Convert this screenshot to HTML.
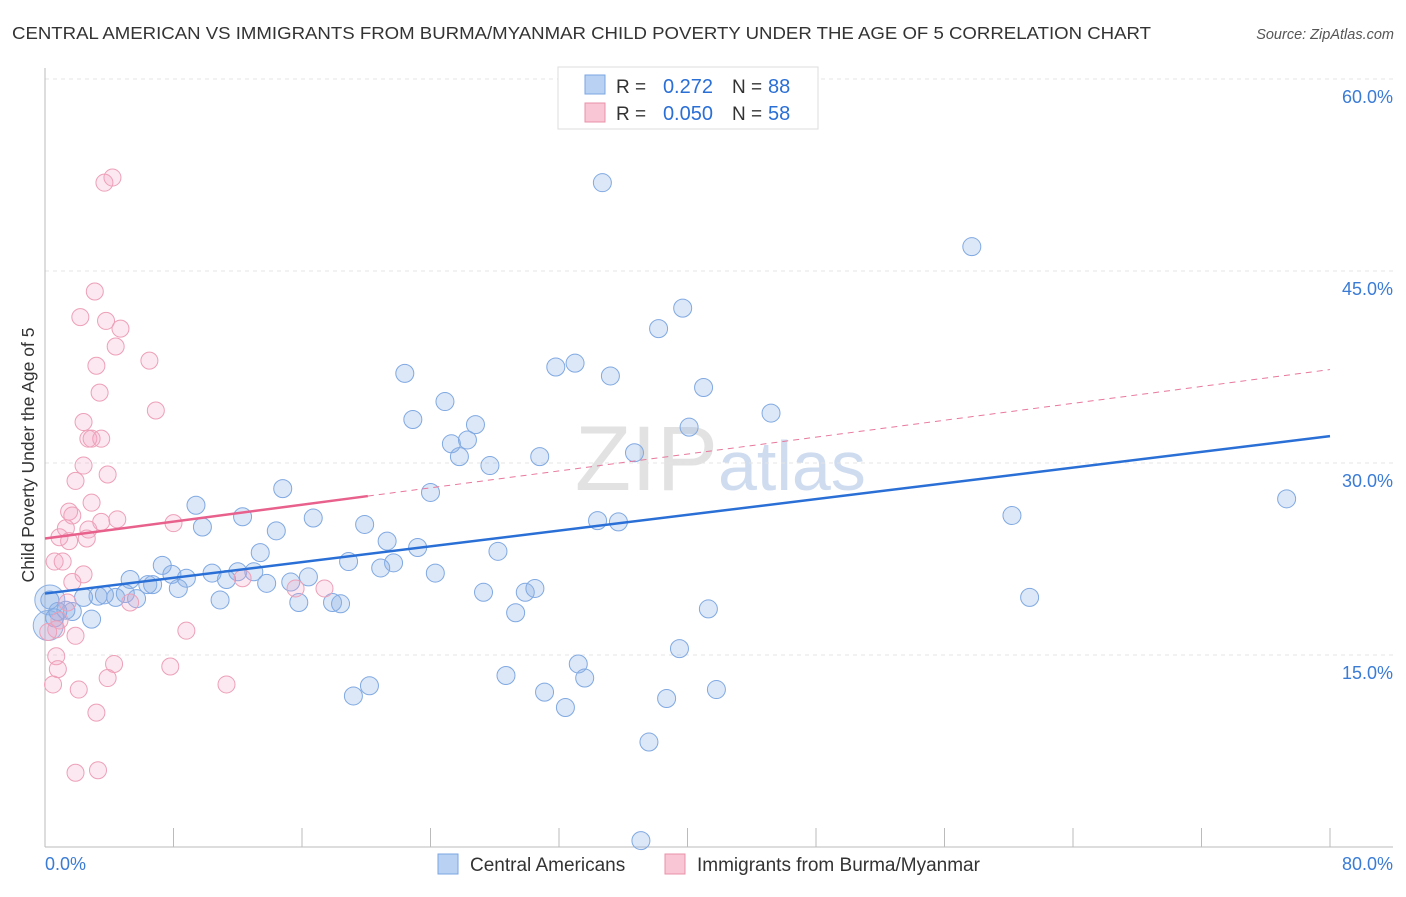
<!DOCTYPE html>
<html><head><meta charset="utf-8"><style>
body{margin:0;background:#fff;font-family:"Liberation Sans",sans-serif;}
svg text{font-family:"Liberation Sans",sans-serif;}
</style></head><body>
<svg id="chart" width="1406" height="892">
<text x="12" y="39" font-size="17.5" fill="#333" textLength="1139" lengthAdjust="spacingAndGlyphs">CENTRAL AMERICAN VS IMMIGRANTS FROM BURMA/MYANMAR CHILD POVERTY UNDER THE AGE OF 5 CORRELATION CHART</text>
<text x="1394" y="39" font-size="14.5" fill="#555" font-style="italic" text-anchor="end">Source: ZipAtlas.com</text>
<text x="718" y="490" font-size="92" fill="#e2e2e2" text-anchor="end" font-family="Liberation Serif">ZIP</text>
<text x="718" y="490" font-size="70" fill="#cfdcf0">atlas</text>
<g id="grid"></g>
<g id="axes"></g>
<g id="pts"></g>
<g id="lines"></g>
<text transform="translate(34,455) rotate(-90)" font-size="17.5" fill="#333" text-anchor="middle">Child Poverty Under the Age of 5</text>
<g>
<rect x="558" y="67" width="260" height="62" fill="#fff" stroke="#ddd"/>
<rect x="585" y="75" width="20" height="19" fill="#b9d1f3" stroke="#7aa6e0"/>
<rect x="585" y="103" width="20" height="19" fill="#f9c6d5" stroke="#e890a8"/>
<text x="616" y="93" font-size="19" fill="#333">R =</text>
<text x="713" y="93" font-size="20" fill="#2a6fd6" text-anchor="end">0.272</text>
<text x="732" y="93" font-size="19" fill="#333">N =</text>
<text x="768" y="93" font-size="20" fill="#2a6fd6">88</text>
<text x="616" y="120" font-size="19" fill="#333">R =</text>
<text x="713" y="120" font-size="20" fill="#2a6fd6" text-anchor="end">0.050</text>
<text x="732" y="120" font-size="19" fill="#333">N =</text>
<text x="768" y="120" font-size="20" fill="#2a6fd6">58</text>
</g>
<g>
<rect x="438" y="854" width="20" height="20" fill="#b9d1f3" stroke="#7aa6e0"/>
<text x="470" y="871" font-size="19" fill="#333">Central Americans</text>
<rect x="665" y="854" width="20" height="20" fill="#f9c6d5" stroke="#e890a8"/>
<text x="697" y="871" font-size="19" fill="#333">Immigrants from Burma/Myanmar</text>
</g>
</svg>
<script>
const xTicks=[0,8,16,24,32,40,48,56,64,72,80];
const yTicks=[15,30,45,60];
const blueX=[34.7,57.7,39.7,38.2,33.0,31.8,35.2,22.4,41.0,24.9,22.9,45.2,26.8,26.3,25.3,40.1,30.8,36.7,25.8,27.7,9.4,14.8,24.0,9.8,12.3,16.7,19.9,34.4,35.7,14.4,21.3,13.4,23.2,28.2,60.2,77.3,7.3,18.9,21.7,20.9,24.3,7.9,10.4,12.0,5.3,8.8,13.0,11.3,13.8,15.3,16.4,6.4,8.3,6.7,27.3,29.9,30.5,61.3,10.9,15.8,17.9,18.4,3.3,4.4,5.7,3.7,5.0,2.4,29.3,41.3,1.7,2.9,0.6,1.3,39.5,33.2,33.6,28.7,20.2,19.2,31.1,38.7,41.8,32.4,37.6,37.1,0.8,0.3];
const blueY=[51.9,46.9,42.1,40.5,37.8,37.5,36.8,37.0,35.9,34.8,33.4,33.9,33.0,31.8,31.5,32.8,30.5,30.8,30.5,29.8,26.7,28.0,27.7,25.0,25.8,25.7,25.2,25.5,25.4,24.7,23.9,23.0,23.4,23.1,25.9,27.2,22.0,22.3,22.2,21.8,21.4,21.3,21.4,21.5,20.9,21.0,21.5,20.9,20.6,20.7,21.1,20.5,20.2,20.5,19.9,19.9,20.2,19.5,19.3,19.1,19.1,19.0,19.6,19.5,19.4,19.7,19.8,19.5,18.3,18.6,18.4,17.8,17.9,18.5,15.5,14.3,13.2,13.4,12.6,11.8,12.1,11.6,12.3,10.9,8.2,0.5,18.4,19.3];
const bigBlueX=[0.3,0.2];
const bigBlueY=[19.3,17.3];
const pinkX=[4.2,3.7,3.1,2.2,3.8,4.7,4.4,6.5,3.2,3.4,6.9,2.4,2.7,2.9,3.5,2.4,3.9,1.9,2.9,1.5,1.7,1.3,4.5,3.5,2.7,8.0,1.5,2.6,0.9,0.6,1.1,2.4,1.7,17.4,12.3,5.3,1.4,0.9,0.7,0.2,1.9,8.8,0.7,0.8,4.3,7.8,3.9,0.5,2.1,11.3,3.2,1.9,3.3,15.6];
const pinkY=[52.3,51.9,43.4,41.4,41.1,40.5,39.1,38.0,37.6,35.5,34.1,33.2,31.9,31.9,31.9,29.8,29.1,28.6,26.9,26.2,25.9,24.9,25.6,25.4,24.8,25.3,23.9,24.1,24.2,22.3,22.3,21.3,20.7,20.2,21.0,19.1,19.1,17.7,17.0,16.8,16.5,16.9,14.9,13.9,14.3,14.1,13.2,12.7,12.3,12.7,10.5,5.8,6.0,20.2];
const blueTrend=[19.8,32.1];
const pinkTrend=[24.1,37.3];
const pinkSolidEnd=20.1;
const NS='http://www.w3.org/2000/svg';
const X=v=>45+v/80*1285, Y=v=>847-v*12.8;
function mk(tag,attrs,parent){const e=document.createElementNS(NS,tag);for(const k in attrs)e.setAttribute(k,attrs[k]);document.getElementById(parent).appendChild(e);return e;}
yTicks.forEach(t=>{
 const l=mk('line',{x1:45,x2:1393,y1:Y(t),y2:Y(t),stroke:'#e4e4e4','stroke-dasharray':'4 4'},'grid');
 
 
 const tx=mk('text',{x:1393,y:Y(t)+24,'font-size':18,fill:'#3a7bd5','text-anchor':'end'},'grid');
 tx.textContent=t.toFixed(1)+'%';
 
 
});
const ax=mk('line',{x1:45,x2:45,y1:68,y2:847,stroke:'#bbb'},'axes');


const bx=mk('line',{x1:45,x2:1393,y1:847,y2:847,stroke:'#bbb'},'axes');


xTicks.forEach(t=>{
 const l=mk('line',{x1:X(t),x2:X(t),y1:828,y2:847,stroke:'#bbb'},'axes');
 
 
});
[[0,'start',45],[80,'end',1393]].forEach(([v,a,px])=>{
 const tx=mk('text',{x:px,y:870,'font-size':18,fill:'#3a7bd5','text-anchor':a},'axes');
 tx.textContent=v.toFixed(1)+'%';
 
 
});
bigBlueX.forEach((x,i)=>{
 const c=mk('circle',{cx:X(x),cy:Y(bigBlueY[i]),r:15,fill:'rgba(140,175,230,0.3)',stroke:'#8ab0e4'},'pts');
 
 
});
blueX.forEach((x,i)=>{
 const c=mk('circle',{cx:X(x),cy:Y(blueY[i]),r:9,fill:'rgba(140,175,230,0.3)',stroke:'#80a9e2'},'pts');
 
 
});
pinkX.forEach((x,i)=>{
 const c=mk('circle',{cx:X(x),cy:Y(pinkY[i]),r:8.5,fill:'rgba(245,165,195,0.25)',stroke:'#eda0b8'},'pts');
 
 
});
const bl=mk('line',{x1:X(0),y1:Y(blueTrend[0]),x2:X(80),y2:Y(blueTrend[1]),stroke:'#2a6fd6','stroke-width':2.5},'lines');


const pm=pinkTrend[0]+(pinkTrend[1]-pinkTrend[0])*pinkSolidEnd/80;
const pd=mk('line',{x1:X(pinkSolidEnd),y1:Y(pm),x2:X(80),y2:Y(pinkTrend[1]),stroke:'#e8789c','stroke-width':1,'stroke-dasharray':'6 5'},'lines');


const ps=mk('line',{x1:X(0),y1:Y(pinkTrend[0]),x2:X(pinkSolidEnd),y2:Y(pm),stroke:'#e8608c','stroke-width':2.5},'lines');


</script>
</body></html>
